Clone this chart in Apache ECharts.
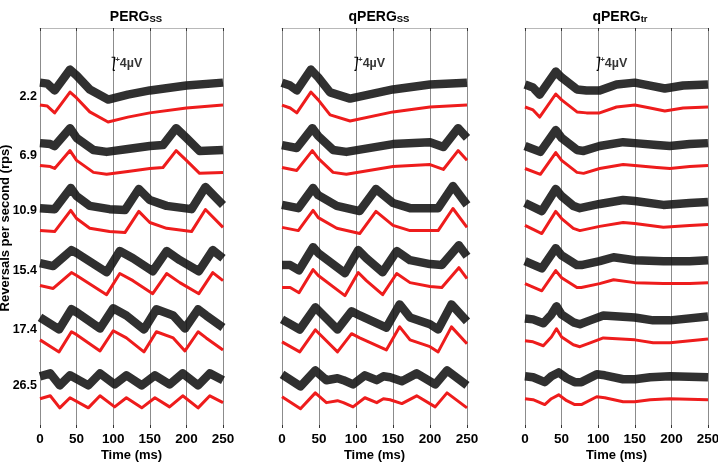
<!DOCTYPE html>
<html>
<head>
<meta charset="utf-8">
<script src="https://cdn.jsdelivr.net/npm/echarts@6/dist/echarts.min.js"></script>
<style>
html,body{margin:0;padding:0;background:#fff;}
#chart{width:718px;height:467px;}
</style>
</head>
<body>
<div id="chart"></div>
<script>
// ---------- tick labels / categories ----------
const TIME_TICKS = [0, 50, 100, 150, 200, 250];
const RPS_LABELS = ['2.2', '6.9', '10.9', '15.4', '17.4', '26.5'];
const PANEL_TITLES = [['PERG', 'SS'], ['qPERG', 'SS'], ['qPERG', 'tr']];
const SCALE_BAR_UV = 4;

// ---------- waveforms (mean, µV relative to row level), time in ms ----------
// PERG_SS
const pergSS_t = [
  [0,10,20,41,50,68,93,120,150,200,250],
  [0,14,20,41,50,73,91,120,150,168,186,200,218,250],
  [0,20,42,50,68,95,116,135,150,173,207,226,250],
  [0,18,43,50,91,109,127,154,173,191,217,236,250],
  [0,26,43,50,82,100,118,142,159,182,198,216,227,250],
  [0,14,27,41,66,82,102,118,139,157,177,195,216,232,250]
];
const pergSS_v = [
  [-2.5,-2.8,-4.9,1.5,-0.3,-4.6,-7.7,-6.2,-4.9,-3.4,-2.5],
  [-3.1,-3.4,-4.0,1.5,-1.5,-5.2,-5.8,-4.9,-4.0,-3.7,1.5,-1.5,-5.5,-5.2],
  [-6.2,-6.5,0,-2.5,-5.5,-6.5,-6.8,-0.3,-3.7,-5.5,-6.5,0.3,-5.2],
  [-4.6,-5.5,-0.6,-1.5,-7.4,-0.9,-3.1,-7.1,-0.9,-3.7,-7.1,-0.6,-3.1],
  [-3.1,-6.8,-0.6,-1.5,-6.5,-0.3,-2.5,-6.8,-0.6,-2.5,-6.5,-0.6,-2.5,-6.2],
  [-4.0,-3.1,-6.8,-3.7,-6.8,-3.1,-6.5,-3.7,-6.8,-3.7,-6.5,-3.1,-6.8,-3.1,-5.2]
];
// qPERG_SS
const qpergSS_t = [
  [0,11,20,39,49,65,92,150,200,250],
  [0,20,41,49,69,87,150,200,218,238,250],
  [0,22,42,49,74,105,127,150,173,211,231,250],
  [0,11,23,42,49,85,103,114,136,155,173,200,216,239,250],
  [0,24,45,49,75,94,105,141,159,173,200,211,229,250],
  [0,25,45,60,75,83,96,112,128,137,146,162,182,207,223,250]
];
const qpergSS_v = [
  [-2.5,-3.4,-4.9,1.5,-0.9,-5.5,-7.4,-4.6,-3.1,-2.5],
  [-3.7,-4.6,1.5,-0.9,-5.2,-5.8,-3.4,-2.8,-4.3,1.5,-1.5],
  [-5.2,-6.2,0,-2.2,-5.5,-7.1,-0.3,-4.6,-6.2,-6.2,0.6,-5.2],
  [-5.2,-5.2,-6.8,0.3,-1.5,-7.7,-0.6,-3.1,-7.4,-0.9,-3.7,-4.9,-5.2,0.9,-2.5],
  [-3.7,-6.8,0,-0.9,-6.8,-1.2,-2.5,-6.2,0.9,-3.1,-5.2,-6.8,0.9,-4.3],
  [-3.4,-7.1,-2.2,-5.2,-4.6,-5.2,-6.5,-3.7,-5.2,-4.0,-4.3,-5.5,-3.1,-6.5,-2.2,-6.8]
];
// qPERG_tr
const qpergTr_t = [
  [0,11,20,42,50,71,84,102,125,150,171,191,216,250],
  [0,21,42,50,71,80,102,134,150,180,198,225,250],
  [0,23,42,50,66,75,102,134,150,189,225,250],
  [0,23,42,50,71,77,102,121,150,189,225,250],
  [0,11,25,36,43,50,66,75,89,107,150,175,198,250],
  [0,11,27,36,46,57,68,77,98,109,134,150,171,198,250]
];
const qpergTr_v = [
  [-3.1,-4.0,-6.2,0.9,-0.9,-4.6,-4.9,-4.9,-3.1,-2.5,-3.4,-4.3,-3.4,-3.1],
  [-4.0,-5.8,0.9,-1.5,-5.2,-5.5,-4.0,-2.8,-3.1,-3.7,-4.0,-3.4,-3.1],
  [-4.6,-7.1,-0.3,-2.5,-5.5,-6.2,-4.9,-3.7,-4.0,-5.2,-4.6,-4.3],
  [-4.0,-6.2,0,-2.2,-5.2,-5.2,-4.0,-2.8,-3.7,-4.0,-4.0,-3.7],
  [-3.4,-3.7,-4.9,-2.2,0.3,-2.2,-4.6,-5.2,-4.0,-2.5,-3.1,-4.0,-4.0,-2.8],
  [-4.0,-4.3,-5.8,-4.0,-2.8,-4.6,-5.8,-5.8,-3.4,-3.7,-4.9,-4.9,-4.3,-4.0,-4.3]
];

// ---------- layout (not data) ----------
const Y_MAX = 123;                              // µV span of each panel
const ROW_LEVEL = [101.8, 83.8, 66.9, 48.4, 30.2, 13.0]; // vertical level of each row (µV axis units)
const BUNDLE_SHIFT = 6.9;                       // single trials drawn above the mean
const SCALE_BAR_AT = [100, 112];                // ms, µV-axis centre
const GRIDS = [
  {left: 40, top: 28, width: 183, height: 400, containLabel: false, outerBoundsMode: 'none'},
  {left: 282, top: 28, width: 185, height: 400, containLabel: false, outerBoundsMode: 'none'},
  {left: 525, top: 28, width: 183, height: 400, containLabel: false, outerBoundsMode: 'none'}
];
const TITLE_X = [131, 374, 615];
const FONT = "'Liberation Sans', Arial, Helvetica, sans-serif";

const panels = [[pergSS_t, pergSS_v], [qpergSS_t, qpergSS_v], [qpergTr_t, qpergTr_v]];

const chart = echarts.init(document.getElementById('chart'), null, {renderer: 'canvas'});

const xAxes = [], yAxes = [], series = [], titles = [];
GRIDS.forEach((g, p) => {
  xAxes.push({
    type: 'value', gridIndex: p, min: 0, max: 250, interval: 50, position: 'bottom',
    axisLine: {show: false},
    axisTick: {show: true, inside: true, length: 3, lineStyle: {color: '#333'}},
    splitLine: {show: true, lineStyle: {color: '#8c8c8c', width: 1}},
    axisLabel: {show: true, margin: 4, fontFamily: FONT, fontWeight: 'bold', fontSize: 13.5, color: '#000',
      formatter: v => TIME_TICKS.includes(v) ? String(v) : ''},
    name: 'Time (ms)', nameLocation: 'middle', nameGap: 21, nameMoveOverlap: false,
    nameTextStyle: {fontFamily: FONT, fontWeight: 'bold', fontSize: 13, color: '#000'}
  });
  xAxes.push({
    type: 'value', gridIndex: p, min: 0, max: 250, interval: 50, position: 'top',
    axisLine: {show: true, lineStyle: {color: '#b8b8b8', width: 1}},
    axisTick: {show: true, inside: true, length: 3, lineStyle: {color: '#333'}},
    splitLine: {show: false}, axisLabel: {show: false}
  });
  const y = {
    type: 'value', gridIndex: p, min: 0, max: Y_MAX,
    axisLine: {show: false}, axisTick: {show: false}, splitLine: {show: false},
    axisLabel: {show: false}
  };
  if (p === 0) {
    y.axisLabel = {
      show: true, customValues: ROW_LEVEL, margin: 3,
      fontFamily: FONT, fontWeight: 'bold', fontSize: 12.5, color: '#000',
      formatter: v => {
        let best = 0;
        ROW_LEVEL.forEach((r, i) => { if (Math.abs(r - v) < Math.abs(ROW_LEVEL[best] - v)) best = i; });
        return RPS_LABELS[best];
      }
    };
    y.name = 'Reversals per second (rps)';
    y.nameLocation = 'middle';
    y.nameGap = 28;
    y.nameRotate = 90;
    y.nameMoveOverlap = false;
    y.nameTextStyle = {fontFamily: FONT, fontWeight: 'bold', fontSize: 13, color: '#000'};
  }
  yAxes.push(y);

  const [T, V] = panels[p];
  T.forEach((times, r) => {
    const vals = V[r];
    series.push({
      type: 'line', xAxisIndex: 2 * p, yAxisIndex: p, silent: true, showSymbol: false,
      animation: false, z: 3,
      lineStyle: {color: '#111', width: 8.5, opacity: 0.87, join: 'round'},
      data: times.map((t, i) => [t, ROW_LEVEL[r] + BUNDLE_SHIFT + vals[i]])
    });
    series.push({
      type: 'line', xAxisIndex: 2 * p, yAxisIndex: p, silent: true, showSymbol: false,
      animation: false, z: 4,
      lineStyle: {color: '#ee1c1c', width: 3, join: 'round'},
      data: times.map((t, i) => [t, ROW_LEVEL[r] + vals[i]])
    });
  });

  // 4 µV scale bar
  const sx = SCALE_BAR_AT[0], sc = SCALE_BAR_AT[1], h = SCALE_BAR_UV / 2, cap = 2.2;
  series.push({
    type: 'line', xAxisIndex: 2 * p, yAxisIndex: p, silent: true, showSymbol: false,
    animation: false, z: 5,
    lineStyle: {color: '#000', width: 1.2},
    data: [[sx - cap, sc + h], [sx + cap, sc + h], [sx, sc + h], [sx, sc - h], [sx - cap, sc - h], [sx + cap, sc - h]]
  });
  series.push({
    type: 'scatter', xAxisIndex: 2 * p, yAxisIndex: p, silent: true, animation: false,
    symbolSize: 0, z: 5,
    data: [[sx, sc]],
    label: {show: true, position: 'right', distance: 2,
      formatter: '{p|+}{m|' + SCALE_BAR_UV + 'µV}',
      rich: {
        p: {fontFamily: FONT, fontWeight: 'bold', fontSize: 8, color: '#000', verticalAlign: 'top', padding: [0, 0, 8, 0]},
        m: {fontFamily: FONT, fontWeight: 'bold', fontSize: 12.5, color: '#000'}
      }}
  });

  titles.push({
    text: '{a|' + PANEL_TITLES[p][0] + '}{b|' + PANEL_TITLES[p][1] + '}',
    left: TITLE_X[p], top: 2, textAlign: 'center',
    textStyle: {
      rich: {
        a: {fontFamily: FONT, fontWeight: 'bold', fontSize: 14, color: '#000', verticalAlign: 'bottom'},
        b: {fontFamily: FONT, fontWeight: 'bold', fontSize: 9.5, color: '#000', verticalAlign: 'bottom', padding: [7, 0, 0, 0]}
      }
    }
  });
});

chart.setOption({
  backgroundColor: '#fff',
  animation: false,
  title: titles,
  grid: GRIDS,
  xAxis: xAxes,
  yAxis: yAxes,
  series: series
});
</script>
</body>
</html>
